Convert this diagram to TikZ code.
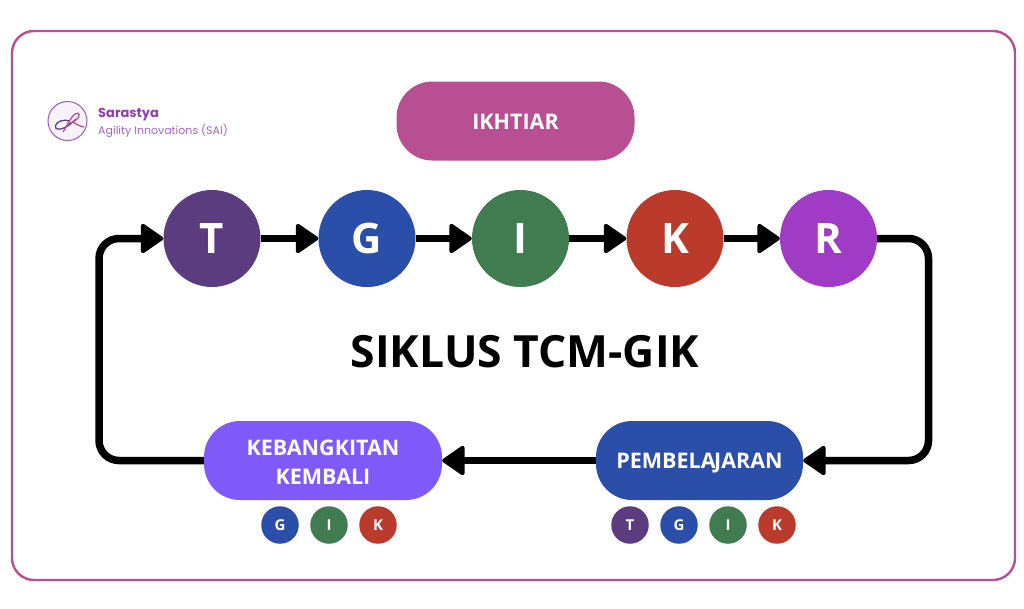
\documentclass[tikz,border=0pt]{standalone}
\usepackage{fontspec}
\setmainfont{Open Sans}
\newfontfamily\logofont{Poppins}
\usetikzlibrary{arrows.meta}
\definecolor{frameC}{HTML}{B84F92}
\definecolor{tC}{HTML}{5B3C7F}
\definecolor{gC}{HTML}{2B4EA8}
\definecolor{iC}{HTML}{417B50}
\definecolor{kC}{HTML}{BA3A2C}
\definecolor{rC}{HTML}{9F3BC4}
\definecolor{kebC}{HTML}{805AF8}
\definecolor{logoT}{HTML}{8E3FB0}
\definecolor{logoS}{HTML}{A565C8}
\tikzset{
  x=1pt,y=-1pt,
  bigc/.style={circle,fill=#1,minimum size=97pt,inner sep=0pt,text=white,font=\fontsize{42}{42}\selectfont\bfseries,text height=30.5pt,text depth=0pt},
  smallc/.style={circle,fill=#1,minimum size=37.5pt,inner sep=0pt,text=white,font=\fontsize{15}{15}\selectfont\bfseries,text height=10.7pt,text depth=0pt},
  pill/.style={rectangle,rounded corners=36pt,fill=#1,minimum height=79pt,inner sep=0pt,text=white,align=center,font=\fontsize{21.5}{29}\selectfont\bfseries},
  flow/.style={line width=7.5pt,rounded corners=20pt,-{Triangle[round,line width=4pt,length=24pt,width=32pt]}},
}
\begin{document}
\begin{tikzpicture}
\useasboundingbox (0,0) rectangle (1024,608);
\fill[white] (0,0) rectangle (1024,608);
\draw[frameC,line width=2.4pt,rounded corners=22pt] (12,31) rectangle (1015,580);

\node[pill=frameC,minimum width=238pt] (ikh) at (515.5,121) {\rule{0pt}{17pt}IKHTIAR};
\node[bigc=tC] (t) at (212,238.5) {T};
\node[bigc=gC] (g) at (367,238.5) {G};
\node[bigc=iC] (i) at (520.5,238.5) {I};
\node[bigc=kC] (k) at (675,238.5) {K};
\node[bigc=rC] (r) at (828.5,238.5) {R};
\node[font=\fontsize{44.4}{45}\selectfont\bfseries] (title) at (525,352) {SIKLUS TCM-GIK};
\node[pill=gC,minimum width=207pt,text height=15pt,text depth=0pt] (pem) at (699.5,460.5) {PEMBELA\kern-1.5ptJARAN};
\node[pill=kebC,minimum width=238pt] (keb) at (323,460.5) {\rule{0pt}{18.4pt}KEBANGKITAN\\KEMBALI};

\node[smallc=tC] (s1) at (630,525) {T};
\node[smallc=gC] (s2) at (679,525) {G};
\node[smallc=iC] (s3) at (728,525) {I};
\node[smallc=kC] (s4) at (777,525) {K};
\node[smallc=gC] (s5) at (280,525) {G};
\node[smallc=iC] (s6) at (329,525) {I};
\node[smallc=kC] (s7) at (378,525) {K};

\coordinate (cr1) at (928.5,238.5);
\coordinate (cr2) at (928.5,460.5);
\coordinate (cl1) at (99,460.5);
\coordinate (cl2) at (99,238.5);

\draw[flow] (t) -- (g);
\draw[flow] (g) -- (i);
\draw[flow] (i) -- (k);
\draw[flow] (k) -- (r);
\draw[flow] (r) -- (cr1) -- (cr2) -- (pem);
\draw[flow] (pem) -- (keb);
\draw[flow] (keb) -- (cl1) -- (cl2) -- (t);

% logo
\draw[fill=logoS!8,draw=logoS!80!tC,line width=1pt] (67.5,121) circle (19.5);
\draw[tC,line width=1.3pt] (70,121) .. controls (64,119) and (57,121) .. (55.5,125.5) .. controls (54.5,130) and (60,130) .. (65,127.5) .. controls (69,125.5) and (73,122) .. (76,119);
\draw[frameC,line width=1.3pt] (63,132) .. controls (67,126) and (71,116) .. (76,113.5) .. controls (80,112) and (80,116) .. (77,119) .. controls (74,122) and (70,123) .. (68,124);
\draw[frameC,line width=1.3pt] (73,122) .. controls (76,124) and (80,126.5) .. (84,127);
\node[anchor=west,inner sep=0pt,text=logoT,font=\logofont\fontsize{13}{13}\selectfont\bfseries] (brand) at (98,115) {Sarastya};
\node[anchor=west,inner sep=0pt,text=logoS,font=\logofont\fontsize{11}{11}\selectfont] (sub) at (98,130.5) {Agility Innovations (SAI)};
\end{tikzpicture}
\end{document}
